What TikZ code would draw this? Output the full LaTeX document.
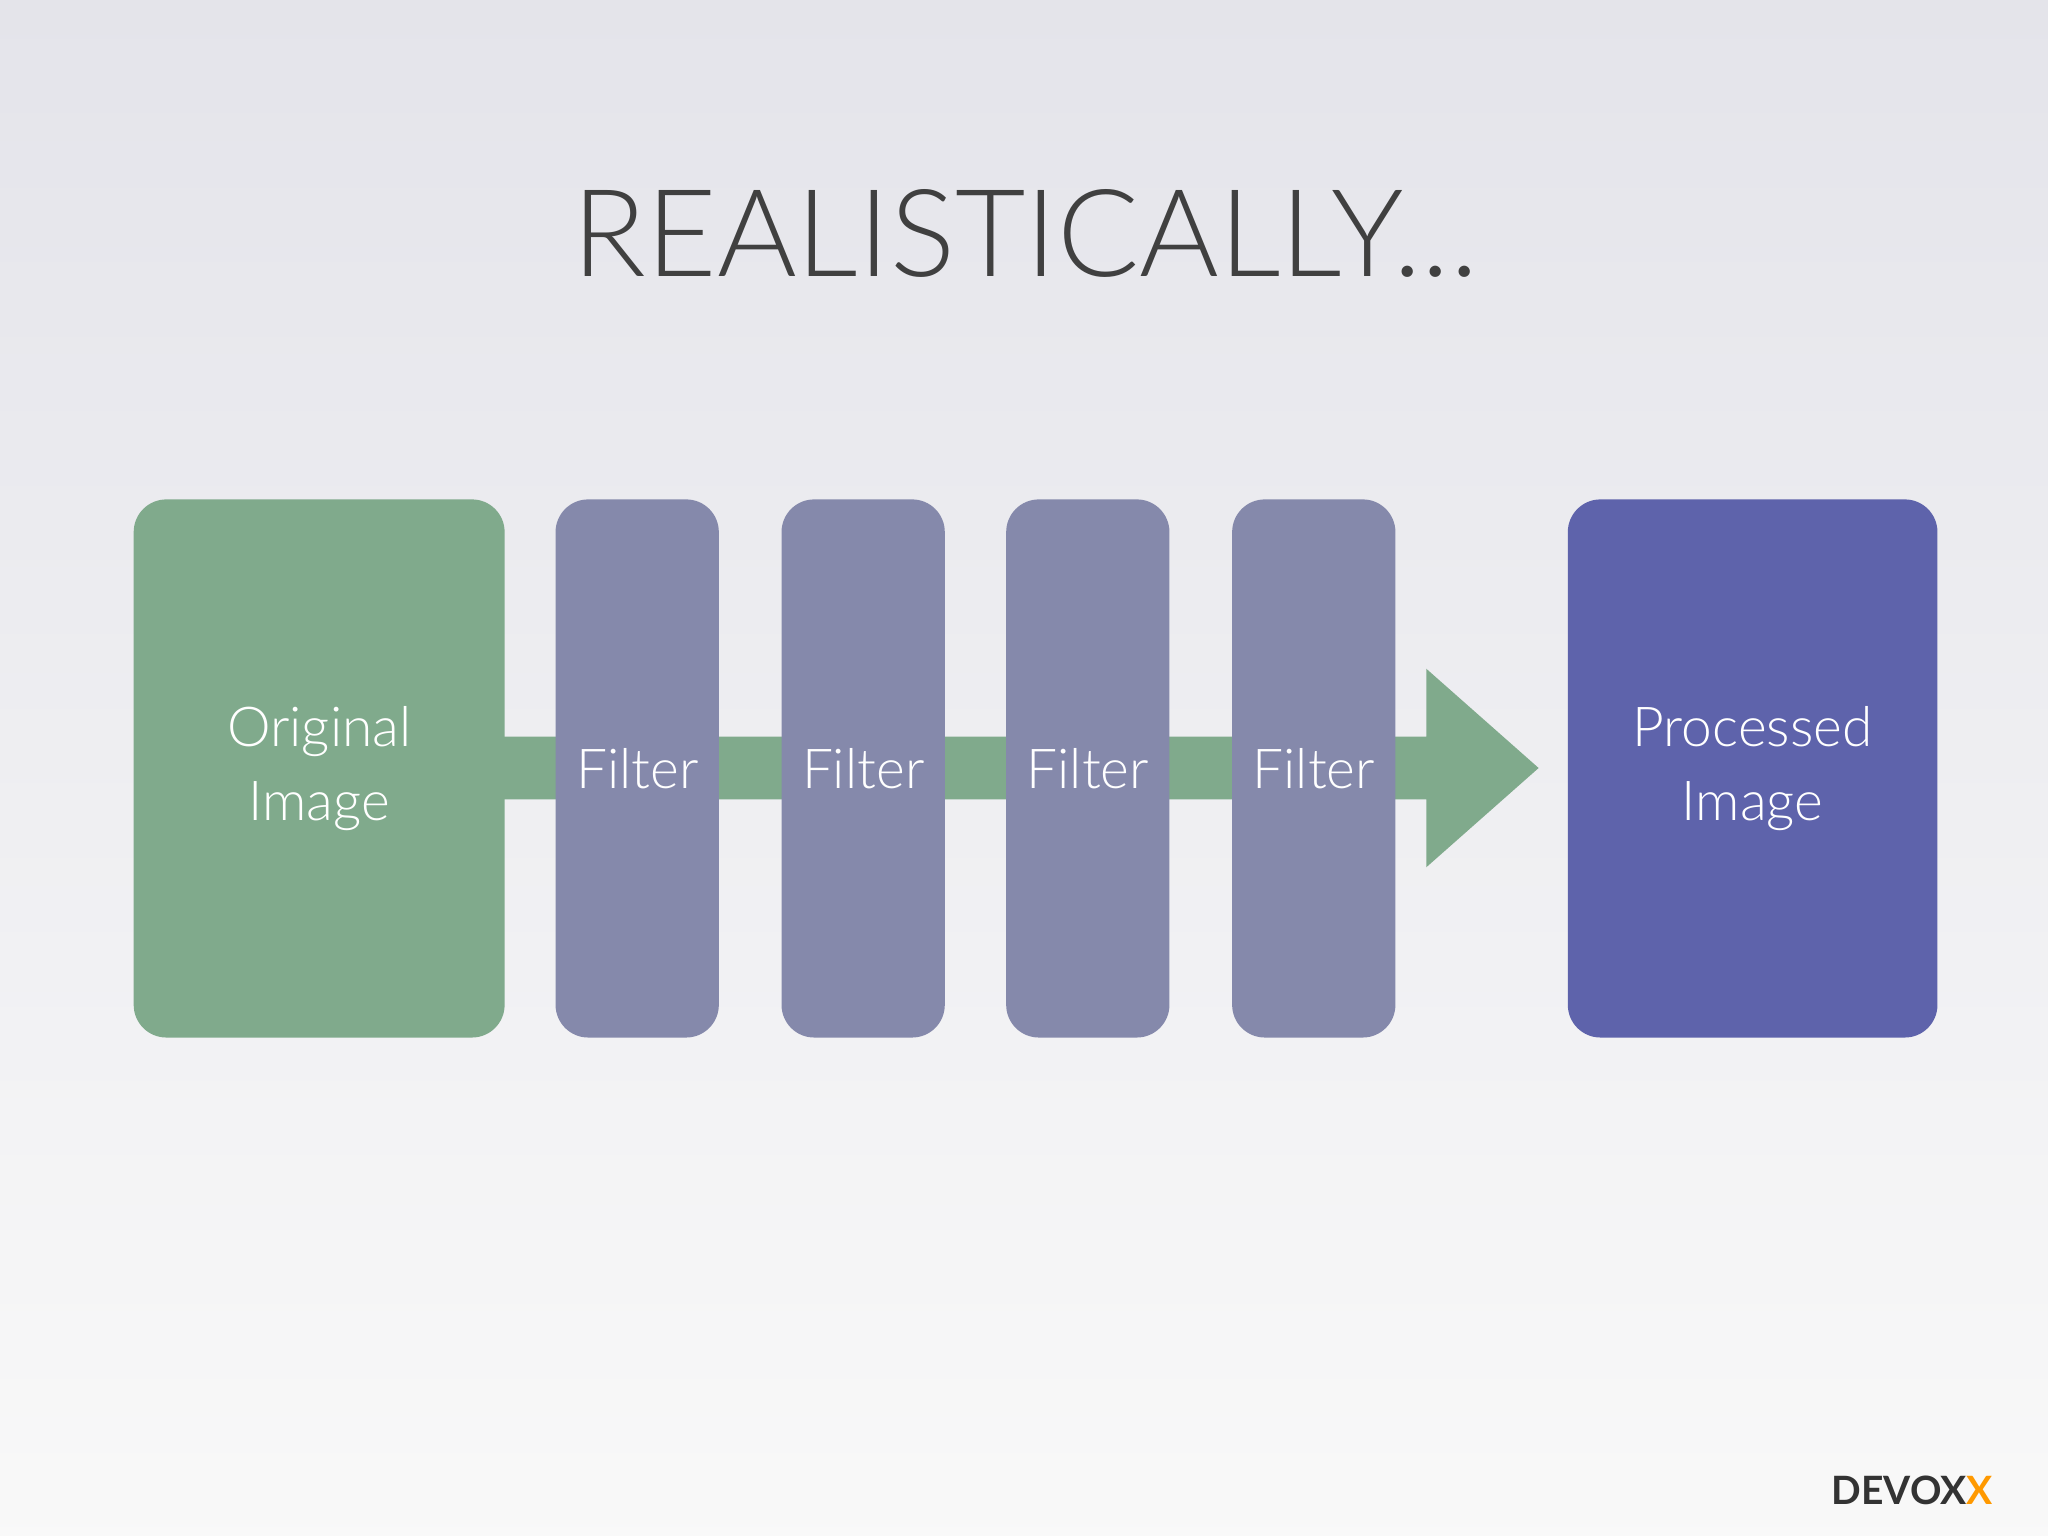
\documentclass[tikz,border=0pt]{standalone}
\usepackage{fontspec}
\setmainfont{Lato Light}
\newfontfamily\logofont{Lato}
\definecolor{grn}{HTML}{80AA8C}
\definecolor{flt}{HTML}{8589AB}
\definecolor{prc}{HTML}{5E63AB}
\definecolor{ttl}{HTML}{404040}
\begin{document}
\begin{tikzpicture}[x=0.02cm,y=-0.02cm,
  box/.style={rounded corners=0.5cm,inner sep=0pt,anchor=north west},
  lbl/.style={text=white,font=\fontsize{24}{32}\selectfont,align=center}]
\shade[top color=gray!12!blue!3!white!92!black,bottom color=gray!5] (0,0) rectangle (1568,1176);
\useasboundingbox (0,0) rectangle (1568,1176);
\node[text=ttl,font=\fontsize{53}{60}\selectfont] (title) at (785,179) {REALISTICALLY...};
\fill[grn] (386,564) -- (1092,564) -- (1092,512) -- (1178,588) -- (1092,664) -- (1092,612) -- (386,612) -- cycle;
\node[box,fill=grn,minimum width=284*0.02cm,minimum height=412*0.02cm] (orig) at (102,382) {};
\node[lbl] at (orig.center) {Original\\Image};
\foreach \x/\n in {425/f1,598/f2,770/f3,943/f4}{
  \node[box,fill=flt,minimum width=125*0.02cm,minimum height=412*0.02cm] (\n) at (\x,382) {};
  \node[lbl] at (\n.center) {Filter};
}
\node[box,fill=prc,minimum width=283*0.02cm,minimum height=412*0.02cm] (proc) at (1200,382) {};
\node[lbl] at (proc.center) {Processed\\Image};
\node[font=\fontsize{17}{20}\logofont\bfseries,text=ttl!80!black,anchor=east] (logo) at (1532,1141) {DEVOX\textcolor{orange!80!yellow}{X}};
\end{tikzpicture}
\end{document}
